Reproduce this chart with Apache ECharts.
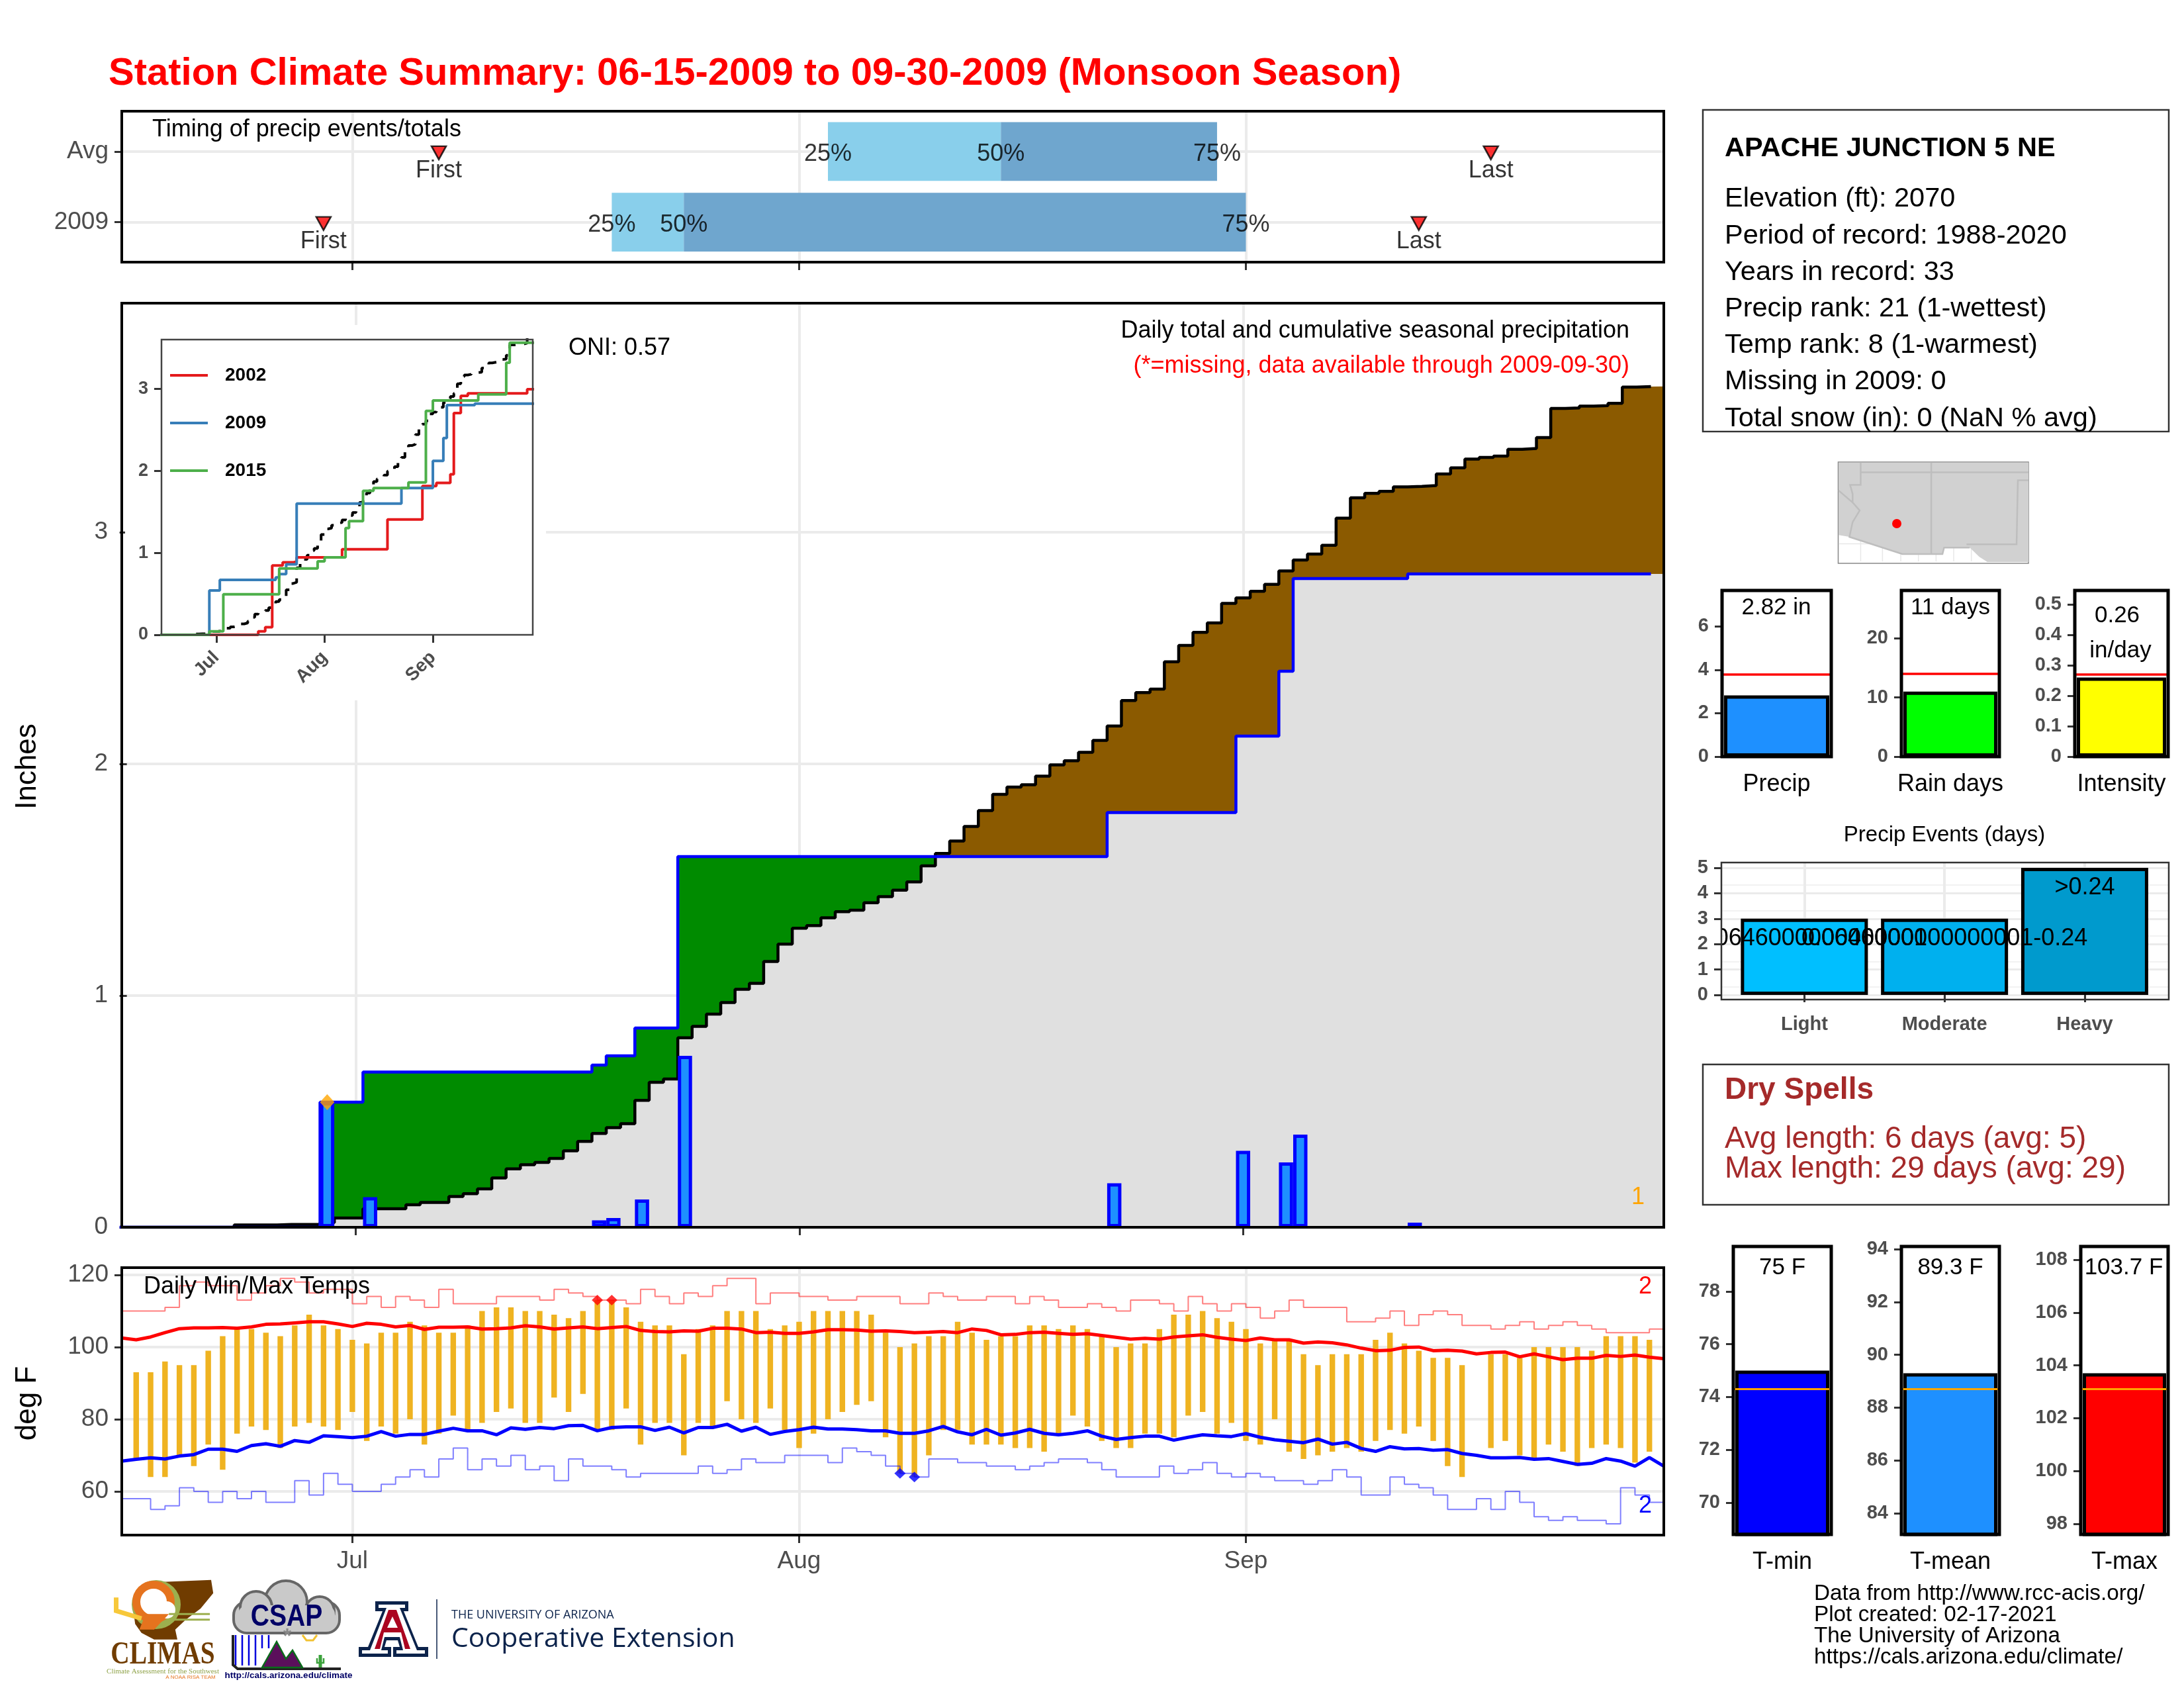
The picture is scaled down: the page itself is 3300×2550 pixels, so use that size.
<!DOCTYPE html>
<html>
<head>
<meta charset="utf-8">
<title>Station Climate Summary</title>
<script src="https://cdn.jsdelivr.net/npm/echarts@6/dist/echarts.min.js"></script>
<style>html,body{margin:0;padding:0;background:#fff}#chart{width:3300px;height:2550px}</style>
</head>
<body>
<div id="chart"></div>
<script>
// day index: 0 = Jun 15, 107 = Sep 30
var monthTicks = [16, 47, 78];
var monthNames = {16: 'Jul', 47: 'Aug', 78: 'Sep'};

var timingNames = ['First', '25%', '50%', '75%', 'Last'];
var timingAvg = [22, 49, 61, 76, 95];
var timing2009 = [14, 34, 39, 78, 90];

var rainDays = [14, 17, 33, 34, 36, 39, 69, 78, 81, 82, 90];
var rainAmounts = [0.54, 0.13, 0.03, 0.04, 0.12, 0.74, 0.19, 0.33, 0.28, 0.40, 0.02];

var avgCum = [0, 0, 0, 0, 0, 0, 0, 0, 0.01, 0.01, 0.01, 0.012, 0.012, 0.012, 0.02, 0.04, 0.04, 0.08, 0.08, 0.08,
  0.097, 0.107, 0.107, 0.133, 0.145, 0.166, 0.213, 0.252, 0.27, 0.28, 0.297, 0.33, 0.371, 0.405, 0.43, 0.447,
  0.548, 0.626, 0.64, 0.818, 0.867, 0.92, 0.97, 1.027, 1.053, 1.147, 1.222, 1.291, 1.302, 1.336, 1.362, 1.369,
  1.401, 1.427, 1.455, 1.491, 1.56, 1.614, 1.667, 1.73, 1.799, 1.869, 1.9, 1.91, 1.947, 1.996, 2.014, 2.05,
  2.102, 2.164, 2.274, 2.308, 2.323, 2.441, 2.512, 2.568, 2.609, 2.693, 2.717, 2.745, 2.775, 2.833, 2.88, 2.906,
  2.944, 3.061, 3.149, 3.168, 3.177, 3.196, 3.198, 3.202, 3.252, 3.278, 3.316, 3.323, 3.329, 3.358, 3.362, 3.409,
  3.535, 3.537, 3.545, 3.547, 3.557, 3.627, 3.629, 3.63];

// inset comparison years: [day, cumulative inches]
var steps2002 = [[0, 0], [28, 0.043], [30, 0.093], [32, 0.846], [35, 0.883], [38, 0.895], [39, 0.945], [52, 1.043],
  [65, 1.407], [75, 1.815], [79, 1.852], [83, 1.957], [84, 2.704], [86, 2.914], [88, 2.944], [105, 2.994], [107, 2.994]];
var steps2015 = [[0, 0], [14, 0.043], [18, 0.494], [34, 0.809], [45, 0.895], [47, 0.945], [53, 1.302], [54, 1.386],
  [58, 1.756], [61, 1.79], [71, 1.858], [76, 2.731], [78, 2.858], [91, 2.932], [99, 3.318], [100, 3.562], [107, 3.562]];

var tempHi = [null, 93, 93, 96, 95, 95, 99, 103, 105, 105, 104, 103, 106, 109, 106, 105, 102, 101, 104, 104, 107, 106,
  104, 104, 106, 110, 111, 111, 110, 110, 109, 108, 110, 113, 113, 111, 107, 106, 106, 98, 105, 106, 110, 110, 110,
  105, 106, 107, 110, 110, 110, 110, 109, 104, 100, 101, 103, 103, 107, 104, 102, 103, 103, 106, 106, 105, 106, 105,
  103, 100, 101, 101, 105, 109, 109, 110, 108, 107, 105, 101, 102, 102, 98, 95, 98, 98, 98, 102, 104, 101, 99, 97, 97,
  95, null, 98, 98, 97, 100, 100, 100, 100, 99, 103, 103, 103, 102, null];
var tempLo = [null, 69, 64, 64, 70, 67, 73, 66, 76, 78, 77, 72, 78, 79, 78, 77, 82, 74, 78, 76, 80, 73,
  76, 81, 77, 79, 82, 83, 79, 79, 86, 82, 87, 77, 77, 83, 73, 79, 79, 70, 79, 78, 85, 80, 79,
  83, 77, 72, 76, 80, 82, 84, 85, 75, 65, 64, 70, 77, 77, 73, 73, 73, 72, 72, 71, 76, 81, 78,
  74, 72, 72, 76, 76, 75, 81, 82, 76, 79, 74, 73, 80, 71, 69, 70, 71, 72, 71, 74, 77, 76, 78, 74, 67,
  64, null, 72, 74, 70, 69, 73, 71, 67, 72, 73, 72, 68, 71, null];
var avgHi = [102.5, 102, 102.8, 104, 105.1, 105.3, 105.3, 105.4, 105.2, 105.6, 106.3, 106.4, 106.7, 107, 107, 106.4,
  105.7, 106.6, 106.3, 105.6, 106, 104.9, 105.5, 105.5, 105.6, 105, 105.1, 105.3, 105.9, 105.6, 105, 105.3, 105.6,
  105.1, 105.4, 105.7, 104.6, 104.3, 104.2, 104.5, 104.4, 105.2, 105.2, 105, 104, 104.1, 103.8, 103.8, 104.2, 104.8,
  104.8, 104.7, 104.4, 104.5, 104.3, 104, 104.1, 104.3, 104, 105, 104.6, 103.4, 103.5, 104, 104.1, 103.8, 103.5, 103.7,
  103.2, 102.7, 102.2, 102.4, 102.2, 102.8, 103.1, 103.4, 102.7, 102.2, 101.8, 102.5, 102, 102, 101.1, 101.4, 101.2,
  100.6, 99.7, 99, 99.1, 99.9, 100, 99, 99.1, 98.9, 98.1, 98.5, 98.6, 97.3, 98.1, 97.3, 96.5, 96.9, 96.9, 97.7, 97.4,
  97.8, 97.2, 96.8];
var avgLo = [68.4, 68.9, 69.3, 69, 69.8, 70.2, 71.7, 71.7, 71.1, 72.7, 73.2, 72.5, 74.1, 73.6, 75.4, 75.2, 74.9, 75.3,
  76.6, 75.3, 75.8, 75.8, 76.7, 77.5, 76.8, 76.8, 75.7, 77.6, 77.2, 77.7, 77.4, 78.2, 78.3, 76.8, 77.7, 77.9, 77.9,
  76.9, 77.8, 76.2, 77.7, 77.7, 78.6, 76.7, 77.8, 75.8, 76.6, 77.1, 77.8, 77.3, 77.3, 77.1, 76.8, 76.8, 76.1, 76.1,
  76.8, 78, 76.5, 75.7, 77.2, 75.6, 76.2, 77.2, 76.1, 75.7, 76.1, 76.8, 75.3, 74.4, 74.9, 75.3, 75.3, 74.2, 75, 75.7,
  75.4, 75.2, 76, 75, 74.3, 73.9, 73.5, 74.5, 73.1, 73.6, 71.9, 71.1, 72.4, 71.8, 71.9, 71.4, 71.6, 70.5, 70, 69.3,
  69.3, 69.4, 68.9, 69.1, 68.3, 67.5, 67.8, 69.1, 68.4, 67, 69.4, 67];
var recordHi = [110, 110, 110, 111, 117, 118, 117, 117, 113, 115, 117, 119, 118, 115, 116, 116, 112, 114, 111, 114, 113,
  111, 116, 112, 112, 112, 114, 114, 114, 113, 116, 115, 114, 113, 113, 112, 116, 114, 112, 115, 114, 117, 119, 119,
  112, 115, 115, 114, 114, 113, 113, 114, 114, 114, 112, 112, 115, 114, 113, 113, 114, 114, 112, 114, 113, 111, 111,
  112, 111, 110, 113, 113, 112, 110, 114, 112, 110, 112, 111, 108, 110, 113, 111, 111, 111, 107, 107, 108, 110, 106,
  109, 110, 109, 106, 106, 105, 106, 107, 105, 106, 107, 106, 105, 104, 104, 104, 105, 105];
var recordLo = [58, 58, 55, 56, 61, 60, 57, 60, 58, 60, 57, 57, 63, 59, 65, 62, 60, 60, 62, 64, 66, 64, 69, 72, 66, 69,
  67, 70, 66, 67, 63, 69, 67, 67, 66, 64, 65, 65, 65, 65, 67, 65, 66, 69, 68, 68, 70, 70, 70, 68, 72, 71, 70, 67, 65,
  64, 69, 69, 68, 68, 67, 67, 66, 67, 68, 69, 69, 68, 66, 64, 64, 64, 67, 65, 66, 68, 65, 64, 65, 64, 63, 63, 62, 63,
  66, 64, 59, 59, 64, 62, 61, 59, 55, 55, 58, 55, 60, 57, 53, 52, 53, 52, 52, 51, 61, 59, 57, 57];
var hiRecordDays = [[33, 113], [34, 113]];
var loRecordDays = [[54, 65], [55, 64]];

var seasonNames = ['Precip', 'Rain days', 'Intensity'];
var seasonValues = [2.82, 11, 0.26];
var seasonAvgs = [3.8, 14, 0.272];
var seasonColors = ['#1E90FF', '#00FF00', '#FFFF00'];
var seasonTicks = [[0, 2, 4, 6], [0, 10, 20], [0, 0.1, 0.2, 0.3, 0.4, 0.5]];
var seasonMax = [7.65, 28.1, 0.546];

var eventNames = ['Light', 'Moderate', 'Heavy'];
var eventCounts = [3, 3, 5];
var eventLabels = ['<0.0646000000000001', '0.0646000000000001-0.24', '>0.24'];
var eventColors = ['#00BFFF', '#00B0EE', '#009ACD'];

var tempNames = ['T-min', 'T-mean', 'T-max'];
var tempValues = [75, 89.3, 103.7];
var tempAvgs = [74.3, 88.7, 103.1];
var tempColors = ['#0000FF', '#1E90FF', '#FF0000'];
var tempTicks = [[70, 72, 74, 76, 78], [84, 86, 88, 90, 92, 94], [98, 100, 102, 104, 106, 108]];
var tempRange = [[68.8, 79.7], [83.2, 94.1], [97.6, 108.5]];
var tempText = ['75 F', '89.3 F', '103.7 F'];

var stationLines = ['Elevation (ft): 2070', 'Period of record: 1988-2020', 'Years in record: 33',
  'Precip rank: 21 (1-wettest)', 'Temp rank: 8 (1-warmest)', 'Missing in 2009: 0', 'Total snow (in): 0 (NaN % avg)'];
var footerLines = ['Data from http://www.rcc-acis.org/', 'Plot created: 02-17-2021', 'The University of Arizona',
  'https://cals.arizona.edu/climate/'];

// observed cumulative precip from the daily totals
var obsCum = [];
(function () {
  var total = 0;
  for (var i = 0; i < 108; i++) {
    var k = rainDays.indexOf(i);
    if (k >= 0) total = +(total + rainAmounts[k]).toFixed(2);
    obsCum.push(total);
  }
})();

var FONT = '"Liberation Sans"';
var GRID = '#EBEBEB';
var GRAY = '#4D4D4D';

function px(x, y, w, h) {
  return {left: x, top: y, width: w, height: h, containLabel: false};
}
function tick(len) {
  return {length: len || 11, lineStyle: {color: '#333', width: 3}};
}
function text(x, y, s, o) {
  o = o || {};
  return {
    type: 'text', x: x, y: y + 3, z: o.z || 60, rotation: o.rot || 0, scaleX: o.scaleX || 1, silent: true,
    style: {
      text: s, font: (o.bold ? 'bold ' : '') + (o.size || 36) + 'px ' + (o.family || FONT), fill: o.color || '#000',
      align: o.align || 'left', verticalAlign: 'middle', textAlign: o.align || 'left', textVerticalAlign: 'middle'
    }
  };
}
function frame(x, y, w, h, width, color, fill, z) {
  return {type: 'rect', z: z || 50, silent: true, shape: {x: x, y: y, width: w, height: h},
    style: {fill: fill || 'none', stroke: color || '#000', lineWidth: width === undefined ? 4 : width}};
}
function poly(points, fill, stroke, width, z) {
  return {type: 'polygon', z: z || 60, silent: true, shape: {points: points},
    style: {fill: fill, stroke: stroke || 'none', lineWidth: width || 0}};
}
function line(points, stroke, width, z) {
  return {type: 'polyline', z: z || 60, silent: true, shape: {points: points},
    style: {fill: 'none', stroke: stroke, lineWidth: width}};
}
function circle(cx, cy, r, fill, stroke, width, z) {
  return {type: 'circle', z: z || 60, silent: true, shape: {cx: cx, cy: cy, r: r},
    style: {fill: fill, stroke: stroke || 'none', lineWidth: width || 0}};
}

var grids = [], xAxes = [], yAxes = [], series = [], graphics = [];

function addGrid(rect, xAxis, yAxis) {
  grids.push(rect);
  var id = grids.length - 1;
  xAxis.gridIndex = id;
  yAxis.gridIndex = id;
  xAxes.push(xAxis);
  yAxes.push(yAxis);
  return id;
}
function monthAxis(min, max, labels, z) {
  return {
    type: 'value', min: min, max: max, z: z || 0,
    axisLine: {show: false},
    axisTick: Object.assign({show: true, customValues: monthTicks}, tick(12)),
    splitLine: {show: true, lineStyle: {color: GRID, width: 4}},
    axisLabel: {
      show: !!labels, customValues: monthTicks, margin: 21, color: GRAY,
      fontFamily: FONT, fontSize: 37, formatter: function (v) { return monthNames[v]; }
    }
  };
}
function valueAxis(min, max, ticks, labelFn) {
  return {
    type: 'value', min: min, max: max,
    axisLine: {show: false},
    axisTick: Object.assign({show: true, customValues: ticks}, tick(11)),
    splitLine: {show: true, lineStyle: {color: GRID, width: 4}},
    axisLabel: {
      customValues: ticks, margin: 20, color: GRAY, fontFamily: FONT, fontSize: 37, padding: [10, 0, 0, 0],
      formatter: labelFn || function (v) { return String(v); }
    }
  };
}
function stepLine(id, data, color, width, z, name) {
  return {
    type: 'line', name: name, xAxisIndex: id, yAxisIndex: id, data: data, step: 'end', showSymbol: false, symbol: 'none',
    silent: true, z: z, lineStyle: {color: color, width: width}, itemStyle: {color: color}
  };
}
function stepArea(id, data, color, z) {
  return {
    type: 'line', xAxisIndex: id, yAxisIndex: id, data: data, step: 'end', showSymbol: false, symbol: 'none',
    silent: true, z: z, lineStyle: {width: 0}, areaStyle: {color: color, opacity: 1}
  };
}
function pairs(values, shift) {
  return values.map(function (v, i) { return [i + (shift || 0), v]; });
}

// ---- timing panel
var timing = addGrid(px(184, 168, 2330, 228), monthAxis(0, 107, false),
  valueAxis(0.435, 2.57, [1, 2], function (v) { return v === 2 ? 'Avg' : '2009'; }));
function timingBar(rows, a, b, color) {
  series.push({
    type: 'custom', xAxisIndex: timing, yAxisIndex: timing, silent: true, z: 3,
    data: rows.map(function (r) { return [r[1][a], r[1][b], r[0]]; }),
    encode: {x: [0, 1], y: 2},
    renderItem: function (params, api) {
      var p0 = api.coord([api.value(0), api.value(2) + 0.416]);
      var p1 = api.coord([api.value(1), api.value(2) - 0.416]);
      return {type: 'rect', shape: {x: p0[0], y: p0[1], width: p1[0] - p0[0], height: p1[1] - p0[1]}, style: {fill: color}};
    }
  });
}
var timingRows = [[2, timingAvg], [1, timing2009]];
timingBar(timingRows, 1, 2, '#89CFEB');
timingBar(timingRows, 2, 3, '#6FA6CE');
timingRows.forEach(function (row) {
  series.push({
    type: 'scatter', xAxisIndex: timing, yAxisIndex: timing, silent: true, z: 5,
    data: [[row[1][0], row[0], 'First'], [row[1][4], row[0], 'Last']],
    symbol: 'triangle', symbolRotate: 180, symbolSize: [22, 20], symbolOffset: [0, 2],
    itemStyle: {color: '#FF0000', borderColor: '#000', borderWidth: 2.5},
    label: {show: true, position: 'bottom', distance: -2, color: '#000', fontFamily: FONT, fontSize: 36,
      formatter: function (p) { return p.data[2]; }}
  });
  series.push({
    type: 'scatter', xAxisIndex: timing, yAxisIndex: timing, silent: true, z: 5,
    data: [1, 2, 3].map(function (k) { return [row[1][k], row[0], timingNames[k]]; }),
    symbolSize: 1, itemStyle: {color: 'rgba(0,0,0,0)'},
    label: {show: true, position: 'inside', offset: [0, 4], color: '#000', fontFamily: FONT, fontSize: 36,
      formatter: function (p) { return p.data[2]; }}
  });
});

// ---- main precip panel
var main = addGrid(px(183, 458, 2331, 1396), monthAxis(-0.4, 107.4, false), valueAxis(0, 3.989, [0, 1, 2, 3]));
var avgPts = pairs(avgCum, -0.5), obsPts = pairs(obsCum, -0.5);
var edge = 107.5;
series.push(stepArea(main, avgPts.concat([[edge, avgCum[107]]]), '#8B5A00', 2));
series.push(stepArea(main, obsPts.concat([[edge, obsCum[107]]]), '#008B00', 3));
series.push(stepArea(main, pairs(avgCum.map(function (v, i) { return Math.min(v, obsCum[i]); }), -0.5)
  .concat([[edge, Math.min(avgCum[107], obsCum[107])]]), '#E0E0E0', 4));
series.push(stepLine(main, avgPts, '#000', 4.5, 5));
series.push(stepLine(main, obsPts, '#0000FF', 4.5, 6));
series.push({
  type: 'bar', xAxisIndex: main, yAxisIndex: main, silent: true, z: 7, barWidth: 21.5,
  data: rainDays.map(function (d, i) { return [d, rainAmounts[i]]; }),
  itemStyle: {color: '#1E90FF', borderColor: '#0000FF', borderWidth: 5}
});
series.push({
  type: 'scatter', xAxisIndex: main, yAxisIndex: main, silent: true, z: 8, symbol: 'diamond', symbolSize: [22, 24],
  data: [[rainDays[0], rainAmounts[0]]], itemStyle: {color: '#FFA500'}
});

// ---- temperature panel
var temps = addGrid(px(184, 1915, 2330, 404), monthAxis(0, 107, true),
  valueAxis(47.9, 122, [60, 80, 100, 120]));
series.push({
  type: 'custom', xAxisIndex: temps, yAxisIndex: temps, silent: true, z: 3,
  data: tempHi.map(function (v, i) { return [i, v, tempLo[i]]; }).filter(function (r) { return r[1] !== null; }),
  encode: {x: 0, y: [1, 2]},
  renderItem: function (params, api) {
    var p0 = api.coord([api.value(0), api.value(1)]);
    var p1 = api.coord([api.value(0), api.value(2)]);
    return {type: 'rect', shape: {x: p0[0] - 4.2, y: p0[1], width: 8.4, height: p1[1] - p0[1]}, style: {fill: '#EFB321'}};
  }
});
series.push(stepLine(temps, pairs(recordHi), 'rgba(255,0,0,0.5)', 2, 4));
series.push(stepLine(temps, pairs(recordLo), 'rgba(0,0,255,0.5)', 2, 4));
[[avgHi, '#FF0000'], [avgLo, '#0000FF']].forEach(function (s) {
  series.push({
    type: 'line', xAxisIndex: temps, yAxisIndex: temps, data: pairs(s[0]), showSymbol: false, symbol: 'none', silent: true,
    z: 5, lineStyle: {color: s[1], width: 5}
  });
});
[[hiRecordDays, '#FF0000'], [loRecordDays, '#0000FF']].forEach(function (s) {
  series.push({
    type: 'scatter', xAxisIndex: temps, yAxisIndex: temps, silent: true, z: 6, symbol: 'diamond', symbolSize: [17, 16],
    data: s[0], itemStyle: {color: s[1]}
  });
});

// ---- inset
var insetX = monthAxis(0.3, 106.6, true, 20);
insetX.splitLine = {show: false};
insetX.axisLabel.rotate = 45;
insetX.axisLabel.fontWeight = 'bold';
insetX.axisLabel.fontSize = 28;
insetX.axisLabel.margin = 30;
var insetY = valueAxis(0, 3.6, [0, 1, 2, 3]);
insetY.z = 20;
insetY.splitLine = {show: false};
insetY.axisLabel.fontWeight = 'bold';
insetY.axisLabel.fontSize = 27;
var insetRect = px(244, 513, 561, 446);
insetRect.z = 10;
var inset = addGrid(insetRect, insetX, insetY);
series.push(stepLine(inset, pairs(avgCum), '#000', 4, 20));
series[series.length - 1].lineStyle.type = [14, 13];
series.push(stepLine(inset, steps2002, '#E41A1C', 4, 21, '2002'));
series.push(stepLine(inset, pairs(obsCum), '#377EB8', 4, 22, '2009'));
series.push(stepLine(inset, steps2015, '#4DAF4A', 4, 23, '2015'));
graphics.push(frame(189, 491, 636, 567, 0, '#fff', '#fff', 1));
graphics.push(frame(244, 513, 561, 446, 2.5, '#444', 'none', 30));

// ---- season bars
function miniBar(rect, name, value, avg, ticks, range, color, avgColor, barW, avgW) {
  var y = valueAxis(range[0], range[1], ticks);
  y.splitLine = {show: false};
  y.axisLabel.fontWeight = 'bold';
  y.axisLabel.fontSize = 29;
  var id = addGrid(px(rect[0], rect[1], rect[2], rect[3]), {
    type: 'category', data: [name], axisLine: {show: false}, axisTick: {show: false},
    axisLabel: {margin: 24, color: '#000', fontFamily: FONT, fontSize: 36, interval: 0}
  }, y);
  series.push({
    type: 'bar', xAxisIndex: id, yAxisIndex: id, silent: true, z: 3, barWidth: barW, data: [value],
    itemStyle: {color: color, borderColor: '#000', borderWidth: 5},
    markLine: {silent: true, symbol: 'none', label: {show: false}, animation: false,
      lineStyle: {color: avgColor, width: avgW, type: 'solid'}, data: [{yAxis: avg}]}
  });
  graphics.push(frame(rect[0], rect[1], rect[2], rect[3], 5));
}
var seasonRects = [[2602, 892, 165, 251], [2873, 892, 148, 251], [3135, 892, 141, 251]];
seasonNames.forEach(function (n, i) {
  miniBar(seasonRects[i], n, seasonValues[i], seasonAvgs[i], seasonTicks[i], [0, seasonMax[i]], seasonColors[i], '#FF0000', seasonRects[i][2] - 6, 3.5);
});
graphics.push(text(2684, 915, '2.82 in', {align: 'center', size: 35}));
graphics.push(text(2947, 915, '11 days', {align: 'center', size: 35}));
graphics.push(text(3199, 927, '0.26', {align: 'center', size: 35}));
graphics.push(text(3204, 980, 'in/day', {align: 'center', size: 35}));

// ---- event bars
var eventY = {
  type: 'value', min: -0.18, max: 5.21, interval: 1,
  axisLine: {show: false},
  axisTick: Object.assign({show: true, customValues: [0, 1, 2, 3, 4, 5]}, tick(11)),
  splitLine: {show: true, lineStyle: {color: GRID, width: 3}},
  minorTick: {show: false, splitNumber: 2},
  minorSplitLine: {show: true, lineStyle: {color: '#F2F2F2', width: 2}},
  axisLabel: {customValues: [0, 1, 2, 3, 4, 5], margin: 20, color: GRAY, fontFamily: FONT, fontSize: 29, fontWeight: 'bold', padding: [8, 0, 0, 0]}
};
var events = addGrid(px(2601, 1303, 676, 207), {
  type: 'value', min: 0.408, max: 3.6,
  axisLine: {show: false},
  axisTick: Object.assign({show: true, customValues: [1, 2, 3]}, tick(11)),
  splitLine: {show: true, lineStyle: {color: GRID, width: 4}},
  axisLabel: {customValues: [1, 2, 3], margin: 23, color: GRAY, fontFamily: FONT, fontSize: 29, fontWeight: 'bold',
    formatter: function (v) { return eventNames[v - 1]; }}
}, eventY);
series.push({
  type: 'bar', xAxisIndex: events, yAxisIndex: events, silent: true, z: 3, barWidth: 192,
  data: eventCounts.map(function (c, i) { return {value: [i + 1, c], itemStyle: {color: eventColors[i]}}; }),
  itemStyle: {borderColor: '#000', borderWidth: 5}
});
series.push({
  type: 'custom', xAxisIndex: events, yAxisIndex: events, silent: true, z: 6, clip: true,
  data: eventCounts.map(function (c, i) { return [i + 1, c - 0.78, i]; }),
  encode: {x: 0, y: 1},
  renderItem: function (params, api) {
    var p = api.coord([api.value(0), api.value(1)]);
    return {type: 'text', x: p[0], y: p[1], style: {text: eventLabels[api.value(2)], font: '36px ' + FONT, fill: '#000',
      align: 'center', verticalAlign: 'middle', textAlign: 'center', textVerticalAlign: 'middle'}};
  }
});
graphics.push(frame(2601, 1303, 676, 207, 2.5, '#333'));
graphics.push(text(2938, 1259, 'Precip Events (days)', {align: 'center', size: 33}));

// ---- temperature bars
var tempRects = [[2619, 1883, 148, 435], [2873, 1883, 148, 435], [3144, 1883, 132, 435]];
tempNames.forEach(function (n, i) {
  miniBar(tempRects[i], n, tempValues[i], tempAvgs[i], tempTicks[i], tempRange[i], tempColors[i], '#FFA500', tempRects[i][2] - 6, 3);
});
graphics.push(text(2693, 1912, tempText[0], {align: 'center', size: 35}));
graphics.push(text(2947, 1912, tempText[1], {align: 'center', size: 35}));
graphics.push(text(3209, 1912, tempText[2], {align: 'center', size: 35}));

// ---- texts
graphics.push(text(164, 109, 'Station Climate Summary: 06-15-2009 to 09-30-2009 (Monsoon Season)', {bold: true, size: 58, color: '#FF0000'}));
graphics.push(text(230, 193, 'Timing of precip events/totals'));
graphics.push(text(859, 523, 'ONI: 0.57'));
graphics.push(text(2462, 497, 'Daily total and cumulative seasonal precipitation', {align: 'right'}));
graphics.push(text(2462, 550, '(*=missing, data available through 2009-09-30)', {align: 'right', color: '#FF0000'}));
graphics.push(text(2475, 1806, '1', {color: '#FFA500', align: 'center'}));
graphics.push(text(217, 1941, 'Daily Min/Max Temps'));
graphics.push(text(2486, 1941, '2', {color: '#FF0000', align: 'center'}));
graphics.push(text(2486, 2272, '2', {color: '#0000FF', align: 'center'}));
graphics.push(text(42, 1155, 'Inches', {rot: Math.PI / 2, align: 'center', size: 44}));
graphics.push(text(42, 2117, 'deg F', {rot: Math.PI / 2, align: 'center', size: 44}));

graphics.push(frame(184, 168, 2330, 228));
graphics.push(frame(184, 458, 2330, 1396));
graphics.push(frame(184, 1915, 2330, 404));

// station box
graphics.push(frame(2573, 166, 704, 486, 2.5, '#333', '#fff', 40));
graphics.push(text(2606, 222, 'APACHE JUNCTION 5 NE', {bold: true, size: 41.5}));
stationLines.forEach(function (s, i) {
  graphics.push(text(2606, 298 + i * 55.2, s, {size: 41.5}));
});
graphics.push({type: 'rect', z: 61, silent: true, shape: {x: 2560, y: 653.5, width: 730, height: 14}, style: {fill: '#fff'}});

// dry spells
graphics.push(frame(2573, 1608, 704, 212, 2.5, '#333', '#fff', 40));
graphics.push(text(2606, 1644, 'Dry Spells', {bold: true, size: 46, color: '#A52A2A'}));
graphics.push(text(2606, 1718, 'Avg length: 6 days (avg: 5)', {size: 46, color: '#A52A2A'}));
graphics.push(text(2606, 1763, 'Max length: 29 days (avg: 29)', {size: 46, color: '#A52A2A'}));

footerLines.forEach(function (s, i) {
  graphics.push(text(2741, 2405 + i * 32, s, {size: 33.3}));
});

// locator map (zoom coordinates mapped into the picture)
function m(zx, zy) { return [2540 + zx / 2.063, 150 + zy / 1.425]; }
function mapPts(list) { return list.map(function (p) { return m(p[0], p[1]); }); }
graphics.push(frame(2777.5, 698, 287.5, 153, 1.5, '#888', '#fff', 40));
[[560, 985], [628, 985], [685, 985], [740, 985], [795, 985], [850, 985], [905, 985]].forEach(function (p) {
  graphics.push(line(mapPts([[p[0], 945], [p[0], 995]]), '#E8E8E8', 1.5, 41));
});
graphics.push(line(mapPts([[492, 957], [940, 957]]), '#E8E8E8', 1.5, 41));
graphics.push(poly(mapPts([[491, 782], [1083, 782], [1083, 996], [955, 996], [930, 985], [900, 965], [820, 965], [815, 979],
  [690, 979], [525, 942], [491, 938]]), '#D1D1D1', null, 0, 42));
graphics.push(line(mapPts([[560, 782], [560, 830], [527, 830], [535, 850], [535, 868], [557, 885], [535, 910], [525, 942], [690, 979], [815, 979], [820, 965], [900, 965]]), '#BEBEBE', 2.5, 43));
graphics.push(line(mapPts([[491, 842], [535, 868]]), '#BEBEBE', 2.5, 43));
graphics.push(line(mapPts([[560, 803], [1083, 803]]), '#BEBEBE', 2.5, 43));
graphics.push(line(mapPts([[780, 782], [780, 979]]), '#BEBEBE', 2.5, 43));
graphics.push(line(mapPts([[1083, 820], [1050, 820], [1046, 958], [890, 958]]), '#BEBEBE', 2.5, 43));
graphics.push(circle(2866, 791, 7, '#FF0000', null, 0, 44));

// logos
function l(zx, zy) { return [150 + zx / 1.568, 2330 + zy / 3]; }
function logoPts(list) { return list.map(function (p) { return l(p[0], p[1]); }); }
graphics.push(poly(logoPts([[265, 170], [270, 230], [240, 300], [205, 350], [180, 395], [185, 440], [130, 440], [100, 410], [85, 370], [80, 300], [90, 230], [140, 180]]), '#703C00'));
graphics.push(circle(236, 2424, 37, '#9CAF4E'));
graphics.push(circle(232, 2420, 26, '#fff', '#E5731E', 12));
graphics.push(circle(252, 2432, 13, '#fff'));
graphics.push(circle(240, 2436, 12, '#fff'));
graphics.push(line(logoPts([[40, 250], [40, 310], [100, 345]]), '#F7C83A', 7));
graphics.push(poly(logoPts([[110, 325], [165, 325], [130, 395], [95, 395]]), '#E5731E'));
graphics.push(line(logoPts([[165, 325], [262, 325]]), '#9CAF4E', 3));
graphics.push(line(logoPts([[165, 350], [262, 350]]), '#9CAF4E', 3));
graphics.push(text(246, 2498, 'CLIMAS', {family: '"Liberation Serif"', bold: true, size: 48, scaleX: 0.82, color: '#703C00', align: 'center'}));
graphics.push(text(246, 2522, 'Climate Assessment for the Southwest', {size: 11, color: '#8FA34A', align: 'center', family: '"Liberation Sans Narrow"'}));
graphics.push(text(288, 2531, 'A NOAA RISA TEAM', {size: 8, color: '#E5731E', align: 'center'}));

graphics.push({type: 'rect', z: 60, silent: true, shape: {x: 353, y: 2420, width: 160, height: 47, r: 20}, style: {fill: '#C9C9C9', stroke: '#666', lineWidth: 4}});
graphics.push(circle(432, 2420, 32, '#C9C9C9', '#666', 4));
graphics.push(circle(387, 2428, 24, '#C9C9C9', '#666', 4));
graphics.push(circle(483, 2434, 22, '#C9C9C9', '#666', 4));
graphics.push({type: 'rect', z: 60, silent: true, shape: {x: 360, y: 2425, width: 146, height: 38, r: 14}, style: {fill: '#C9C9C9'}});
graphics.push(text(433, 2440, 'CSAP', {bold: true, size: 46, scaleX: 0.85, color: '#000066', align: 'center'}));
[356, 366, 376, 386, 396, 406].forEach(function (x, i) {
  graphics.push(line([[x, 2470], [x, i < 4 ? 2516 : 2490]], '#0000DD', 2.5));
});
graphics.push(line([[352, 2470], [352, 2515], [359, 2521], [515, 2521]], '#222', 4));
graphics.push(poly([[396, 2519], [418, 2480], [432, 2506], [442, 2493], [457, 2519]], '#5B0F5B', '#0A6B1A', 2.5));
graphics.push(line([[484, 2500], [484, 2519]], '#3BA13B', 5));
graphics.push(line([[479, 2505], [479, 2512], [489, 2512], [489, 2505]], '#3BA13B', 2.5));
graphics.push(text(434, 2470, '*', {size: 32, bold: true, color: '#888', align: 'center'}));
graphics.push(line([[457, 2470], [463, 2478], [473, 2478], [479, 2470]], '#F1C232', 3));
graphics.push(text(436, 2528, 'http://cals.arizona.edu/climate', {bold: true, size: 13.5, color: '#000066', align: 'center'}));

graphics.push(poly([[567, 2419], [617, 2419], [617, 2434], [610, 2434], [632, 2488], [647, 2488], [647, 2503], [594, 2503], [594, 2488], [604, 2488], [601, 2478], [584, 2478], [581, 2488], [591, 2488], [591, 2503], [542, 2503], [542, 2488], [556, 2488], [578, 2434], [567, 2434]], '#0C234B'));
graphics.push(poly([[572, 2424], [612, 2424], [612, 2429], [604, 2429], [630, 2493], [642, 2493], [642, 2498], [599, 2498], [599, 2493], [609, 2493], [604, 2473], [581, 2473], [576, 2493], [586, 2493], [586, 2498], [547, 2498], [547, 2493], [559, 2493], [584, 2429], [572, 2429]], '#fff'));
graphics.push(poly([[587, 2432], [599, 2432], [620, 2491], [612, 2491], [606, 2466], [580, 2466], [574, 2491], [566, 2491]], '#AB0520'));
graphics.push(poly([[593, 2442], [601, 2459], [585, 2459]], '#fff'));
graphics.push(line([[660, 2416], [660, 2506]], '#0C234B', 1.5));
graphics.push(text(682, 2437, 'THE UNIVERSITY OF ARIZONA', {size: 18, color: '#0C234B', family: '"Open Sans"'}));
graphics.push(text(682, 2473, 'Cooperative Extension', {size: 41, color: '#0C234B', family: '"Open Sans"'}));

var chart = echarts.init(document.getElementById('chart'));
chart.setOption({
  animation: false,
  backgroundColor: '#fff',
  textStyle: {fontFamily: FONT},
  grid: grids,
  xAxis: xAxes,
  yAxis: yAxes,
  legend: {
    data: ['2002', '2009', '2015'], orient: 'vertical', left: 257, top: 553, z: 30, selectedMode: false, icon: 'rect',
    itemWidth: 57, itemHeight: 4, itemGap: 44, padding: 0,
    textStyle: {color: '#000', fontFamily: FONT, fontWeight: 'bold', fontSize: 28, padding: [0, 0, 0, 21]}
  },
  graphic: {elements: graphics},
  series: series
});
</script>
</body>
</html>
